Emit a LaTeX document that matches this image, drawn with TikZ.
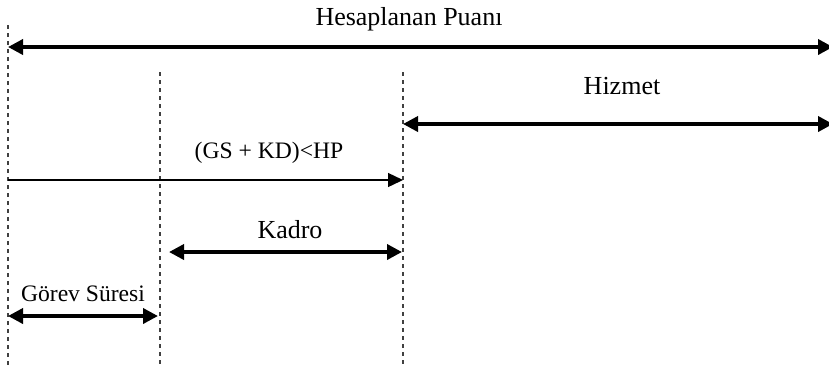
\documentclass[tikz,border=0pt]{standalone}
\usepackage{fontspec}
\setmainfont{Liberation Serif}
\usetikzlibrary{arrows.meta}
\begin{document}
\begin{tikzpicture}[x=0.5pt,y=-0.5pt,
  guide/.style={draw=black!75,line width=0.65pt,dash pattern=on 2.2pt off 1.8pt},
  span/.style={line width=1.8pt,{Triangle[length=7.5pt,width=7.5pt]}-{Triangle[length=7.5pt,width=7.5pt]}},
  flow/.style={line width=0.7pt,-{Triangle[length=7.5pt,width=7pt]}},
  lbl/.style={inner sep=0pt,font=\fontsize{13}{15}\selectfont},
  lbls/.style={inner sep=0pt,font=\fontsize{11.8}{14}\selectfont}]
\useasboundingbox (0,0) rectangle (829,366);
% vertical reference lines
\coordinate (a0) at (8,25);   \coordinate (a1) at (8,366);
\coordinate (b0) at (160,72); \coordinate (b1) at (160,366);
\coordinate (c0) at (403,72); \coordinate (c1) at (403,366);
\draw[guide] (a0) -- (a1);
\draw[guide] (b0) -- (b1);
\draw[guide] (c0) -- (c1);
% total score
\node[lbl] (hp) at (409,19) {Hesaplanan Puanı};
\coordinate (hpL) at (8,47); \coordinate (hpR) at (833,47);
\draw[span] (hpL) -- (hpR);
% service
\node[lbl] (hz) at (622,86) {Hizmet};
\coordinate (hzL) at (403,124); \coordinate (hzR) at (833,124);
\draw[span] (hzL) -- (hzR);
% condition
\node[lbls] (cond) at (269,153) {(GS + KD)<HP};
\coordinate (cdL) at (8,180); \coordinate (cdR) at (403,180);
\draw[flow] (cdL) -- (cdR);
% staff
\node[lbl] (kd) at (290,230) {Kadro};
\coordinate (kdL) at (169,252); \coordinate (kdR) at (402,252);
\draw[span] (kdL) -- (kdR);
% term of office
\node[lbls] (gs) at (83,294) {Görev Süresi};
\coordinate (gsL) at (8,316); \coordinate (gsR) at (158,316);
\draw[span] (gsL) -- (gsR);
\end{tikzpicture}
\end{document}
